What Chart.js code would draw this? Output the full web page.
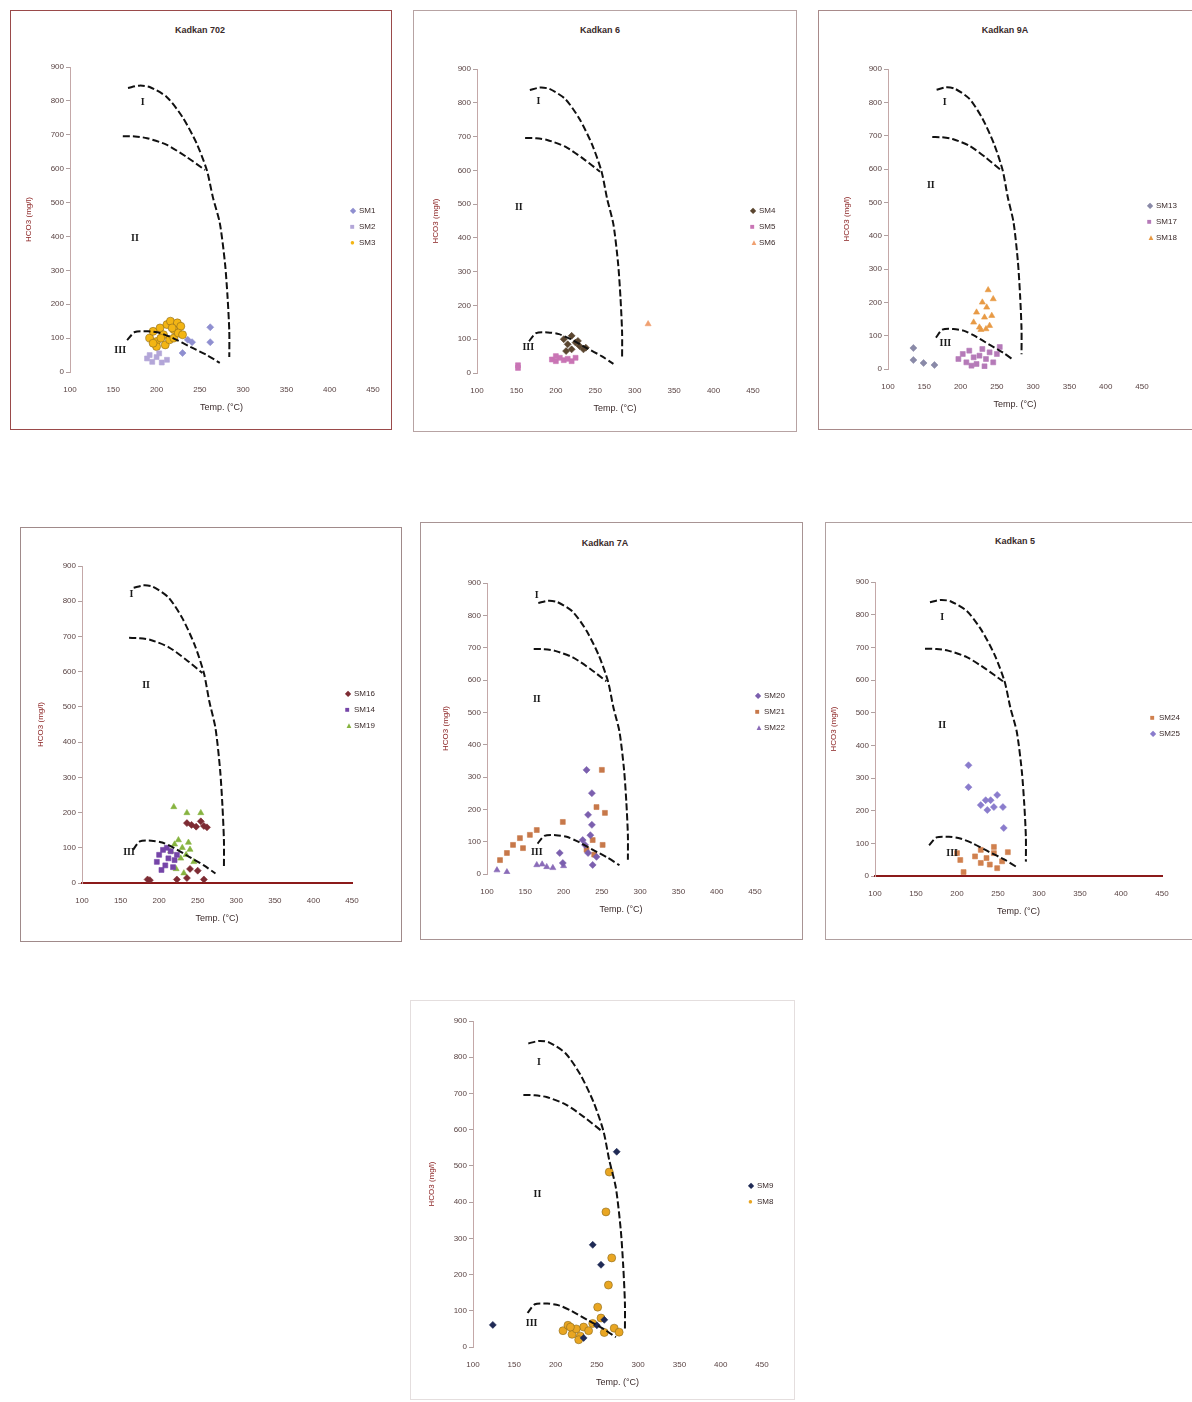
<!DOCTYPE html>
<html>
<head>
<meta charset="utf-8">
<script src="https://cdn.jsdelivr.net/npm/chart.js@4.4.0/dist/chart.umd.min.js"></script>
<style>
  body { margin: 0; background: #fff; width: 1192px; height: 1402px; overflow: hidden; position: relative;
         font-family: "Liberation Sans", Arial, sans-serif; }
  .box { position: absolute; border: 1px solid #c9b8b8; box-sizing: border-box; }
  .ttl { position: absolute; font-size: 9px; font-weight: bold; color: #3a2a2a; transform: translateX(-50%); white-space: nowrap; }
  .leg { position: absolute; font-size: 8px; color: #3a2a2a; line-height: 16px; white-space: nowrap; }
  .leg span { display: inline-block; width: 9px; font-size: 8px; }
  canvas { position: absolute; }
</style>
</head>
<body>
<script>
// axis ranges shared by every panel
const T_MIN = 100, T_MAX = 450, T_STEP = 50;
const V_MIN = 0, V_MAX = 900, V_STEP = 100;
const xTitle = "Temp. (°C)";
const yTitle = "HCO3 (mg/l)";

// field boundaries (same in every panel)
const curveI_T  = [167, 180, 192, 212, 230, 246, 258, 265, 273, 279, 282, 284, 284];
const curveI_V  = [838, 845, 841, 811, 752, 676, 596, 516, 440, 322, 221, 120, 44];
const curveII_T = [161, 175, 189, 212, 235, 256];
const curveII_V = [696, 695, 690, 670, 634, 596];
const curveIII_T = [166, 175, 190, 204, 219, 239, 258, 273];
const curveIII_V = [94, 118, 120, 115, 100, 74, 50, 27];

// samples [temp, value]
const k702_SM1 = [[262,132],[262,88],[241,88],[230,56],[236,95]];
const k702_SM2 = [[189,40],[195,30],[200,44],[206,28],[212,36],[192,50],[203,55]];
const k702_SM3 = [[192,100],[196,120],[200,90],[204,130],[208,110],[212,140],[216,150],[220,125],[224,145],
                  [228,135],[200,75],[210,80],[215,95],[220,100],[196,85],[205,100],[225,115],[218,130],[230,110]];

const k6_SM4 = [[210,100],[215,85],[220,110],[225,90],[230,80],[235,70],[220,70],[228,95],[213,65],[238,75]];
const k6_SM5 = [[195,40],[200,35],[205,45],[210,38],[215,42],[220,35],[225,45],[200,50],[152,23],[152,15]];
const k6_SM6 = [[317,145]];

const k9_SM13 = [[135,63],[135,27],[149,18],[164,12]];
const k9_SM17 = [[197,30],[203,45],[208,20],[212,55],[218,35],[222,15],[226,40],[230,60],[235,30],[240,50],
                 [245,20],[250,45],[254,66],[215,10],[233,8]];
const k9_SM18 = [[218,140],[222,170],[226,125],[230,200],[233,155],[236,185],[238,237],[240,130],[243,160],
                 [245,210],[228,118],[235,120]];

const kx_SM16 = [[236,170],[242,165],[248,160],[254,175],[258,162],[262,158],[185,10],[188,8],[223,10],
                 [236,14],[258,10],[240,40],[250,35]];
const kx_SM14 = [[197,60],[200,80],[205,94],[208,50],[212,70],[215,90],[218,45],[220,65],[223,80],[203,37],[210,100]];
const kx_SM19 = [[219,216],[236,199],[254,199],[215,90],[220,110],[225,122],[230,100],[235,80],[240,95],
                 [245,60],[228,70],[238,115],[222,40],[232,28]];

const k7_SM20 = [[230,322],[237,250],[232,183],[237,152],[225,105],[232,65],[243,53],[238,28],[195,65],
                 [199,34],[228,90],[235,120]];
const k7_SM21 = [[250,322],[199,161],[243,207],[254,189],[143,111],[156,121],[134,90],[126,65],[117,43],
                 [165,136],[238,105],[251,90],[147,80],[240,60],[230,75]];
const k7_SM22 = [[165,28],[178,22],[186,19],[113,12],[126,6],[200,25],[172,30]];

const k5_SM24 = [[204,49],[208,12],[229,80],[229,40],[245,70],[249,24],[262,73],[245,89],[200,70],
                 [236,55],[255,45],[222,60],[240,35]];
const k5_SM25 = [[214,339],[214,272],[229,217],[237,202],[241,232],[245,211],[249,248],[256,211],[257,147],[235,232]];

const kb_SM9 = [[274,539],[245,282],[255,227],[124,61],[259,75],[234,25],[250,60]];
const kb_SM8 = [[265,483],[261,373],[268,246],[264,171],[251,110],[234,55],[209,45],[215,60],[220,35],[225,50],
                [230,30],[240,45],[245,65],[255,80],[259,40],[271,52],[277,41],[228,20],[218,55]];

const zip = (t, v) => t.map((x, i) => ({ x, y: v[i] }));
const pts = pairs => pairs.map(p => ({ x: p[0], y: p[1] }));

const symbols = { rectRot: "◆", rect: "■", triangle: "▲", circle: "●" };

// panel layout
const panels = [
  { title: "Kadkan 702", box: [10, 10, 382, 420], plot: [70, 67, 373, 372], titlePos: [200, 25], legend: [350, 203],
    regions: [["I",184,796],["II",175,395],["III",158,65]],
    series: [["SM1", k702_SM1, "rectRot", "#8f8fd0"], ["SM2", k702_SM2, "rect", "#b3a6d8"], ["SM3", k702_SM3, "circle", "#f3b514"]],
    border: "#9a4a4a" },
  { title: "Kadkan 6", box: [413, 10, 384, 422], plot: [477, 69, 753, 373], titlePos: [600, 25], legend: [750, 203],
    regions: [["I",178,803],["II",153,491],["III",165,77]],
    series: [["SM4", k6_SM4, "rectRot", "#5b4630"], ["SM5", k6_SM5, "rect", "#c975b5"], ["SM6", k6_SM6, "triangle", "#f0a070"]],
    border: "#b7a3a3" },
  { title: "Kadkan 9A", box: [818, 10, 400, 420], plot: [888, 69, 1142, 369], titlePos: [1005, 25], legend: [1147, 198],
    regions: [["I",178,800],["II",159,552],["III",179,78]],
    series: [["SM13", k9_SM13, "rectRot", "#8a8aa8"], ["SM17", k9_SM17, "rect", "#b57ab8"], ["SM18", k9_SM18, "triangle", "#e89a45"]],
    border: "#a88a8a" },
  { title: "", box: [20, 527, 382, 415], plot: [82, 566, 352, 883], titlePos: null, legend: [345, 686],
    regions: [["I",164,818],["II",183,562],["III",161,88]],
    series: [["SM16", kx_SM16, "rectRot", "#7d2b33"], ["SM14", kx_SM14, "rect", "#7545a8"], ["SM19", kx_SM19, "triangle", "#86b33f"]],
    border: "#a08a8a", redAxis: true },
  { title: "Kadkan 7A", box: [420, 522, 383, 418], plot: [487, 583, 755, 874], titlePos: [605, 538], legend: [755, 688],
    regions: [["I",165,863],["II",165,539],["III",165,68]],
    series: [["SM20", k7_SM20, "rectRot", "#7b5fae"], ["SM21", k7_SM21, "rect", "#c7784a"], ["SM22", k7_SM22, "triangle", "#8a6bb8"]],
    border: "#a89494" },
  { title: "Kadkan 5", box: [825, 522, 400, 418], plot: [875, 582, 1162, 876], titlePos: [1015, 536], legend: [1150, 710],
    regions: [["I",182,792],["II",182,462],["III",194,70]],
    series: [["SM24", k5_SM24, "rect", "#d0804e"], ["SM25", k5_SM25, "rectRot", "#8a7ccc"]],
    border: "#b0a0a0", redAxis: true },
  { title: "", box: [410, 1000, 385, 400], plot: [473, 1021, 762, 1347], titlePos: null, legend: [748, 1178],
    regions: [["I",180,787],["II",178,420],["III",171,66]],
    series: [["SM9", kb_SM9, "rectRot", "#1f2a55"], ["SM8", kb_SM8, "circle", "#e9a622"]],
    border: "#e4dede" }
];

const regionText = {
  id: "regionText",
  afterDatasetsDraw(chart, args, opts) {
    const { ctx, scales: { x, y } } = chart;
    ctx.save();
    ctx.font = 'bold 10px "Liberation Serif", serif';
    ctx.fillStyle = "#1a1a1a";
    ctx.textAlign = "center";
    ctx.textBaseline = "middle";
    (opts.items || []).forEach(it => ctx.fillText(it[0], x.getPixelForValue(it[1]), y.getPixelForValue(it[2])));
    ctx.restore();
  }
};

const Y_W = 46, X_H = 45, PAD_T = 12, PAD_R = 22;

panels.forEach(p => {
  const box = document.createElement("div");
  box.className = "box";
  Object.assign(box.style, { left: p.box[0] + "px", top: p.box[1] + "px", width: p.box[2] + "px", height: p.box[3] + "px",
                             borderColor: p.border });
  document.body.appendChild(box);

  if (p.titlePos) {
    const t = document.createElement("div");
    t.className = "ttl";
    t.textContent = p.title;
    t.style.left = p.titlePos[0] + "px";
    t.style.top = p.titlePos[1] + "px";
    document.body.appendChild(t);
  }

  const [pl, pt, pr, pb] = p.plot;
  const W = pr - pl + Y_W + PAD_R, H = pb - pt + PAD_T + X_H;
  const cv = document.createElement("canvas");
  cv.width = W; cv.height = H;
  Object.assign(cv.style, { left: (pl - Y_W) + "px", top: (pt - PAD_T) + "px", width: W + "px", height: H + "px" });
  document.body.appendChild(cv);

  const curve = (t, v) => ({
    data: zip(t, v), showLine: true, pointRadius: 0, borderColor: "#111", borderWidth: 2,
    borderDash: [7, 3], tension: 0.25, fill: false
  });

  const datasets = [curve(curveI_T, curveI_V), curve(curveII_T, curveII_V), curve(curveIII_T, curveIII_V)];
  p.series.forEach(s => datasets.push({
    label: s[0], data: pts(s[1]), pointStyle: s[2], pointRadius: s[2] === "circle" ? 4 : 3.5,
    backgroundColor: s[3], borderColor: s[2] === "circle" ? "#8a6a20" : s[3], borderWidth: 0.6, showLine: false
  }));

  new Chart(cv, {
    type: "scatter",
    data: { datasets },
    options: {
      responsive: false,
      animation: false,
      layout: { padding: { top: PAD_T, right: PAD_R, left: 0, bottom: 0 } },
      plugins: {
        legend: { display: false },
        tooltip: { enabled: false },
        regionText: { items: p.regions }
      },
      scales: {
        x: {
          min: T_MIN, max: T_MAX,
          afterFit: s => { s.height = X_H; },
          grid: { display: false },
          border: p.redAxis ? { display: true, color: "#8b1a1a", width: 2 } : { display: false },
          ticks: { stepSize: T_STEP, padding: 5, color: "#5a4444", font: { size: 8 }, maxRotation: 0 },
          title: { display: true, text: xTitle, color: "#3a2a2a", font: { size: 9 }, padding: { top: 8 } }
        },
        y: {
          min: V_MIN, max: V_MAX,
          afterFit: s => { s.width = Y_W; },
          grid: { display: true, drawOnChartArea: false, tickLength: 4, color: "#b0a0a0" },
          border: { display: true, color: "#c4a8a8", width: 1 },
          ticks: { stepSize: V_STEP, padding: 2, color: "#5a4444", font: { size: 8 } },
          title: { display: true, text: yTitle, color: "#8b2323", font: { size: 8 }, padding: 0 }
        }
      }
    },
    plugins: [regionText]
  });

  const lg = document.createElement("div");
  lg.className = "leg";
  lg.style.left = p.legend[0] + "px";
  lg.style.top = p.legend[1] + "px";
  p.series.forEach(s => {
    const row = document.createElement("div");
    const m = document.createElement("span");
    m.textContent = symbols[s[2]];
    m.style.color = s[3];
    row.appendChild(m);
    row.appendChild(document.createTextNode(s[0]));
    lg.appendChild(row);
  });
  document.body.appendChild(lg);
});
</script>
</body>
</html>
